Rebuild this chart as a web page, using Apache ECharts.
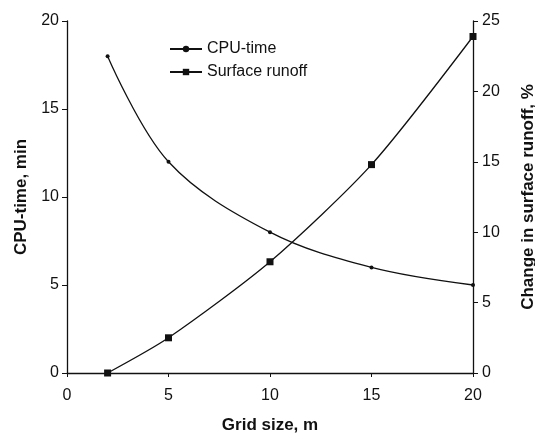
<!DOCTYPE html>
<html>
<head>
<meta charset="utf-8">
<script src="https://cdn.jsdelivr.net/npm/echarts@6/dist/echarts.min.js"></script>
<style>
  html, body { margin: 0; padding: 0; background: #fff; }
  #chart { width: 535px; height: 433px; }
</style>
</head>
<body>
<div id="chart"></div>
<script>
const gridSize = [2, 5, 10, 15, 20];
const cpuTime = [18, 12, 8, 6, 5];
const runoffChange = [0, 2.5, 7.9, 14.8, 23.9];

const pairs = (xs, ys) => xs.map((x, i) => [x, ys[i]]);

const chart = echarts.init(document.getElementById('chart'));
const font = 'Liberation Sans, Arial, sans-serif';
const axisLine = { show: true, lineStyle: { color: '#111', width: 1.3 } };
const nameStyle = { fontSize: 17, fontWeight: 'bold', color: '#111', fontFamily: font };

chart.setOption({
  animation: false,
  textStyle: { fontFamily: font },
  grid: { left: 67, right: 62, top: 21, bottom: 60, outerBoundsMode: 'none', containLabel: false },
  legend: {
    left: 164, top: 36,
    orient: 'vertical',
    itemGap: 7,
    itemWidth: 32, itemHeight: 8,
    textStyle: { fontSize: 16, color: '#111', fontFamily: font },
    data: ['CPU-time', 'Surface runoff']
  },
  xAxis: {
    type: 'value', min: 0, max: 20, interval: 5,
    name: 'Grid size, m', nameLocation: 'middle', nameGap: 44,
    nameTextStyle: nameStyle,
    axisLine: axisLine,
    axisTick: { show: true, inside: false, length: 4, lineStyle: { color: '#111' } },
    axisLabel: { fontSize: 16, color: '#111', margin: 15 },
    splitLine: { show: false }
  },
  yAxis: [{
    type: 'value', min: 0, max: 20, interval: 5, position: 'left',
    name: 'CPU-time, min', nameLocation: 'middle', nameGap: 37,
    nameTextStyle: nameStyle,
    axisLine: axisLine,
    axisTick: { show: true, length: 5, lineStyle: { color: '#111' } },
    axisLabel: { fontSize: 16, color: '#111', margin: 8 },
    splitLine: { show: false }
  }, {
    type: 'value', min: 0, max: 25, interval: 5, position: 'right',
    name: 'Change in surface runoff, %', nameLocation: 'middle', nameGap: 47, nameRotate: 90,
    nameTextStyle: nameStyle,
    axisLine: axisLine,
    axisTick: { show: true, length: 5, lineStyle: { color: '#111' } },
    axisLabel: { fontSize: 16, color: '#111', margin: 9 },
    splitLine: { show: false }
  }],
  series: [{
    name: 'CPU-time', type: 'line', yAxisIndex: 0, smooth: 0.35,
    data: pairs(gridSize, cpuTime),
    symbol: 'circle', symbolSize: 4,
    lineStyle: { color: '#111', width: 1.3 },
    itemStyle: { color: '#111' }
  }, {
    name: 'Surface runoff', type: 'line', yAxisIndex: 1, smooth: 0.25,
    data: pairs(gridSize, runoffChange),
    symbol: 'rect', symbolSize: 7,
    lineStyle: { color: '#111', width: 1.3 },
    itemStyle: { color: '#111' }
  }]
});
</script>
</body>
</html>
